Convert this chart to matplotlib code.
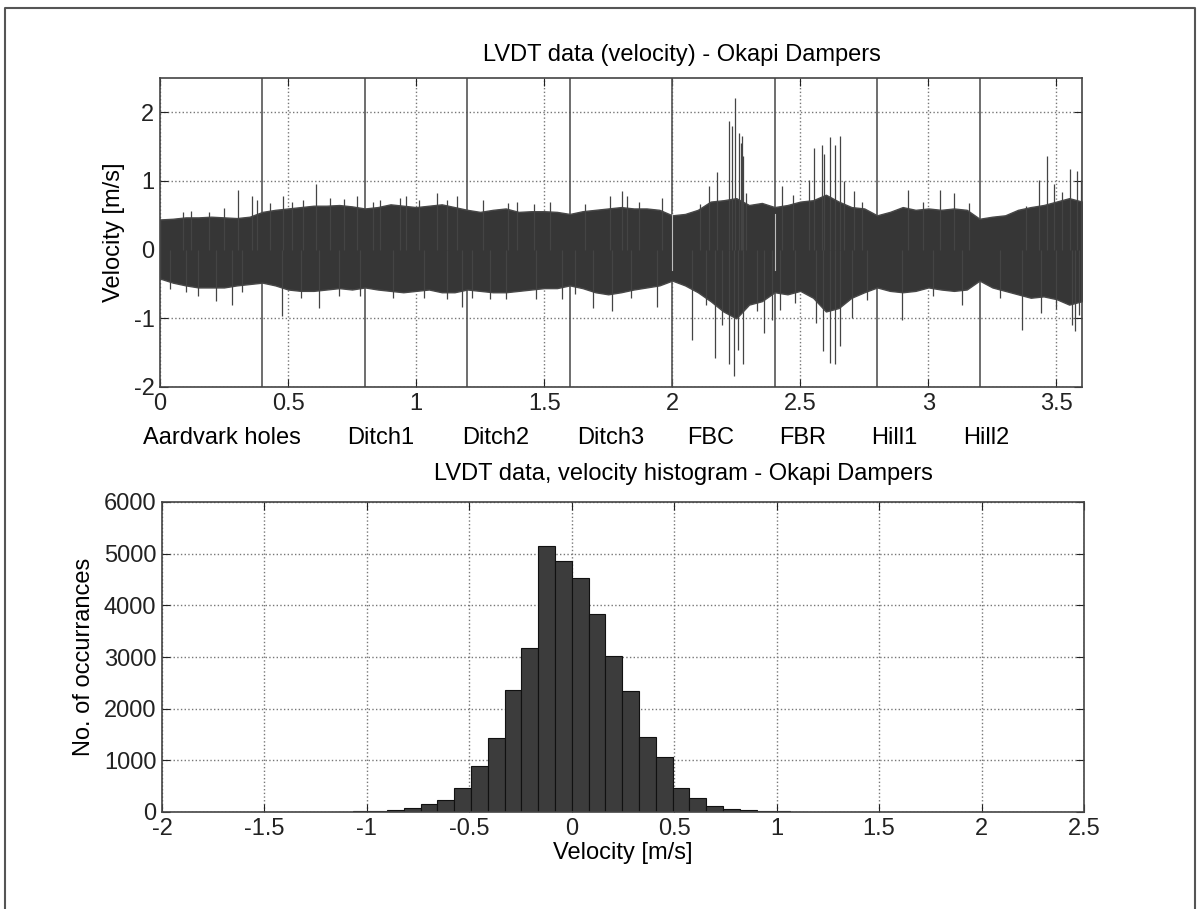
import numpy as np
import matplotlib.pyplot as plt
from matplotlib.lines import Line2D

plt.rcParams['font.family'] = ['Liberation Sans', 'DejaVu Sans']
plt.rcParams['font.size'] = 17
plt.rcParams['axes.unicode_minus'] = False

# --- top plot: LVDT velocity record (envelope, every 0.05 s)
t_env = np.arange(0, 3.601, 0.05)
upper_env = [0.44, 0.45, 0.47, 0.47, 0.48, 0.47, 0.46, 0.48, 0.55, 0.58,
             0.60, 0.62, 0.64, 0.64, 0.65, 0.63, 0.60, 0.62, 0.66, 0.64,
             0.62, 0.64, 0.66, 0.62, 0.58, 0.55, 0.58, 0.60, 0.55, 0.56,
             0.56, 0.55, 0.52, 0.56, 0.58, 0.60, 0.62, 0.60, 0.60, 0.58,
             0.50, 0.52, 0.58, 0.70, 0.72, 0.75, 0.65, 0.68, 0.62, 0.65,
             0.70, 0.72, 0.80, 0.70, 0.62, 0.60, 0.50, 0.55, 0.62, 0.58,
             0.60, 0.58, 0.60, 0.58, 0.45, 0.48, 0.50, 0.58, 0.62, 0.65,
             0.70, 0.75, 0.70]
lower_env = [-0.42, -0.48, -0.52, -0.55, -0.55, -0.55, -0.52, -0.50, -0.48, -0.52,
             -0.58, -0.60, -0.60, -0.58, -0.56, -0.58, -0.55, -0.58, -0.60, -0.62,
             -0.60, -0.58, -0.62, -0.62, -0.58, -0.60, -0.62, -0.62, -0.60, -0.58,
             -0.56, -0.56, -0.52, -0.56, -0.62, -0.65, -0.62, -0.58, -0.55, -0.52,
             -0.45, -0.52, -0.62, -0.75, -0.90, -1.00, -0.80, -0.75, -0.62, -0.65,
             -0.60, -0.70, -0.90, -0.85, -0.70, -0.62, -0.55, -0.60, -0.62, -0.60,
             -0.55, -0.58, -0.60, -0.58, -0.45, -0.55, -0.60, -0.65, -0.70, -0.68,
             -0.72, -0.80, -0.75]

# isolated spikes (time [s], velocity [m/s])
spike_t = [0.306, 0.358, 0.377, 0.48, 0.514, 0.608, 0.664, 0.768, 0.86, 0.937,
           0.96, 1.08, 1.158, 1.263, 1.393, 1.523, 1.758, 1.805, 1.823, 1.96,
           2.143, 2.174, 2.221, 2.234, 2.246, 2.259, 2.268, 2.272, 2.278, 2.43,
           2.533, 2.552, 2.585, 2.594, 2.617, 2.637, 2.656, 2.67, 2.708, 2.92,
           3.047, 3.099, 3.431, 3.464, 3.49, 3.555, 3.58, 3.595,
           0.04, 0.15, 0.22, 0.28, 0.475, 0.62, 0.70, 1.03, 1.18, 1.22,
           1.29, 1.47, 1.57, 1.69, 1.764, 1.94, 2.077, 2.168, 2.196, 2.223,
           2.243, 2.255, 2.275, 2.357, 2.39, 2.42, 2.56, 2.59, 2.617, 2.637,
           2.656, 2.70, 2.897, 3.13, 3.366, 3.44, 3.56, 3.574, 3.59,
           # smaller spikes just outside the band
           0.09, 0.12, 0.19, 0.25, 0.43, 0.56, 0.72, 0.83, 1.01, 1.12,
           1.36, 1.46, 1.66, 1.87, 2.11, 2.29, 2.47, 2.74, 2.98, 3.16,
           3.38, 3.52,
           0.10, 0.32, 0.55, 0.78, 0.91, 1.12, 1.35, 1.62, 1.84, 2.13,
           2.33, 2.48, 2.76, 3.02, 3.28, 3.50]
spike_v = [0.87, 0.78, 0.73, 0.78, 0.70, 0.96, 0.75, 0.78, 0.72, 0.75,
           0.78, 0.83, 0.78, 0.72, 0.70, 0.70, 0.78, 0.86, 0.78, 0.75,
           0.92, 1.13, 1.87, 1.80, 2.21, 1.70, 1.55, 1.65, 1.36, 0.92,
           1.02, 1.48, 1.53, 1.40, 1.64, 1.53, 1.65, 1.00, 0.85, 0.87,
           0.87, 0.83, 1.02, 1.36, 0.95, 1.17, 1.14, 1.02,
           -0.58, -0.68, -0.75, -0.80, -0.97, -0.85, -0.68, -0.70, -0.83, -0.70,
           -0.72, -0.72, -0.72, -0.85, -0.90, -0.83, -1.31, -1.58, -1.10, -1.67,
           -1.84, -1.46, -1.67, -1.21, -1.02, -0.88, -1.07, -1.48, -1.65, -1.67,
           -1.41, -1.00, -1.02, -0.80, -1.17, -0.92, -1.09, -1.19, -0.95,
           0.55, 0.56, 0.55, 0.60, 0.68, 0.72, 0.74, 0.70, 0.72, 0.73,
           0.68, 0.66, 0.66, 0.70, 0.66, 0.82, 0.80, 0.70, 0.70, 0.68,
           0.64, 0.84,
           -0.62, -0.62, -0.70, -0.68, -0.70, -0.72, -0.72, -0.64, -0.70, -0.80,
           -0.90, -0.78, -0.74, -0.68, -0.70, -0.86]

event_t = [0.4, 0.8, 1.2, 1.6, 2.0, 2.4, 2.8, 3.2]
event_names = ['Aardvark holes', 'Ditch1', 'Ditch2', 'Ditch3', 'FBC', 'FBR', 'Hill1', 'Hill2']

# --- bottom plot: velocity histogram (bin centres, counts)
bin_centres = [-1.107, -1.025, -0.943, -0.861, -0.779, -0.697, -0.615, -0.533,
               -0.451, -0.369, -0.287, -0.205, -0.123, -0.041, 0.041, 0.123,
               0.205, 0.287, 0.369, 0.451, 0.533, 0.615, 0.697, 0.779,
               0.861, 0.943, 1.025, 1.107]
counts = [8, 15, 25, 42, 80, 156, 227, 466,
          898, 1435, 2356, 3176, 5141, 4851, 4530, 3839,
          3027, 2340, 1450, 1060, 460, 272, 125, 60,
          38, 22, 14, 8]

W, H = 1202, 909
fig = plt.figure(figsize=(W / 100, H / 100), dpi=100)
ax1 = fig.add_axes([160 / W, 1 - 387 / H, 922 / W, 309 / H])
ax2 = fig.add_axes([162 / W, 1 - 812 / H, 922 / W, 310 / H])

sig_col = '#363636'

# top
for x in event_t:
    ax1.axvline(x, color='#555555', lw=1.2, zorder=1)
ax1.fill_between(t_env, lower_env, upper_env, color=sig_col, lw=1.0, edgecolor='#484848', zorder=2)
ax1.vlines(spike_t, 0, spike_v, color='#444444', lw=0.9, zorder=2)
for x in event_t[4:6]:
    ax1.axvline(x, ymin=0.38, ymax=0.56, color='#bdbdbd', lw=0.8, zorder=3)
ax1.set_xlim(0, 3.6)
ax1.set_ylim(-2, 2.5)
ax1.set_xticks([0, 0.5, 1, 1.5, 2, 2.5, 3, 3.5])
ax1.set_xticklabels(['0', '0.5', '1', '1.5', '2', '2.5', '3', '3.5'])
ax1.set_yticks([-2, -1, 0, 1, 2])
ax1.set_ylabel('Velocity [m/s]', labelpad=6)
ax1.text(0.566, 1.075, 'LVDT data (velocity) - Okapi Dampers', transform=ax1.transAxes,
         ha='center', va='center')
label_x = [0.241, 0.863, 1.31, 1.76, 2.15, 2.51, 2.865, 3.226]
for lx, name in zip(label_x, event_names):
    ax1.text(lx, -0.165, name, transform=ax1.get_xaxis_transform(), ha='center', va='center')

# bottom
ax2.bar(bin_centres, counts, width=0.082, color='#3c3c3c', edgecolor='#111111', lw=0.8, zorder=2)
ax2.set_xlim(-2, 2.5)
ax2.set_ylim(0, 6000)
ax2.set_xticks(np.arange(-2, 2.51, 0.5))
ax2.set_xticklabels(['-2', '-1.5', '-1', '-0.5', '0', '0.5', '1', '1.5', '2', '2.5'])
ax2.set_yticks(range(0, 6001, 1000))
ax2.set_xlabel('Velocity [m/s]', labelpad=2)
ax2.set_ylabel('No. of occurrances', labelpad=6)
ax2.text(0.566, 1.09, 'LVDT data, velocity histogram - Okapi Dampers', transform=ax2.transAxes,
         ha='center', va='center')

for ax in (ax1, ax2):
    ax.grid(True, ls=':', color='#777777', lw=1.0, zorder=0)
    ax.set_axisbelow(True)
    ax.tick_params(direction='in', top=True, right=True, length=6, pad=4, colors='#222222')
    for s in ax.spines.values():
        s.set_color('#444444')
        s.set_linewidth(1.2)

# frame of the scanned page
fig.add_artist(Line2D([5 / W, 5 / W, 1195 / W, 1195 / W], [0, 1 - 8 / H, 1 - 8 / H, 0],
                      color='#555555', lw=1.5, transform=fig.transFigure))

fig.savefig('out.png', dpi=100)
